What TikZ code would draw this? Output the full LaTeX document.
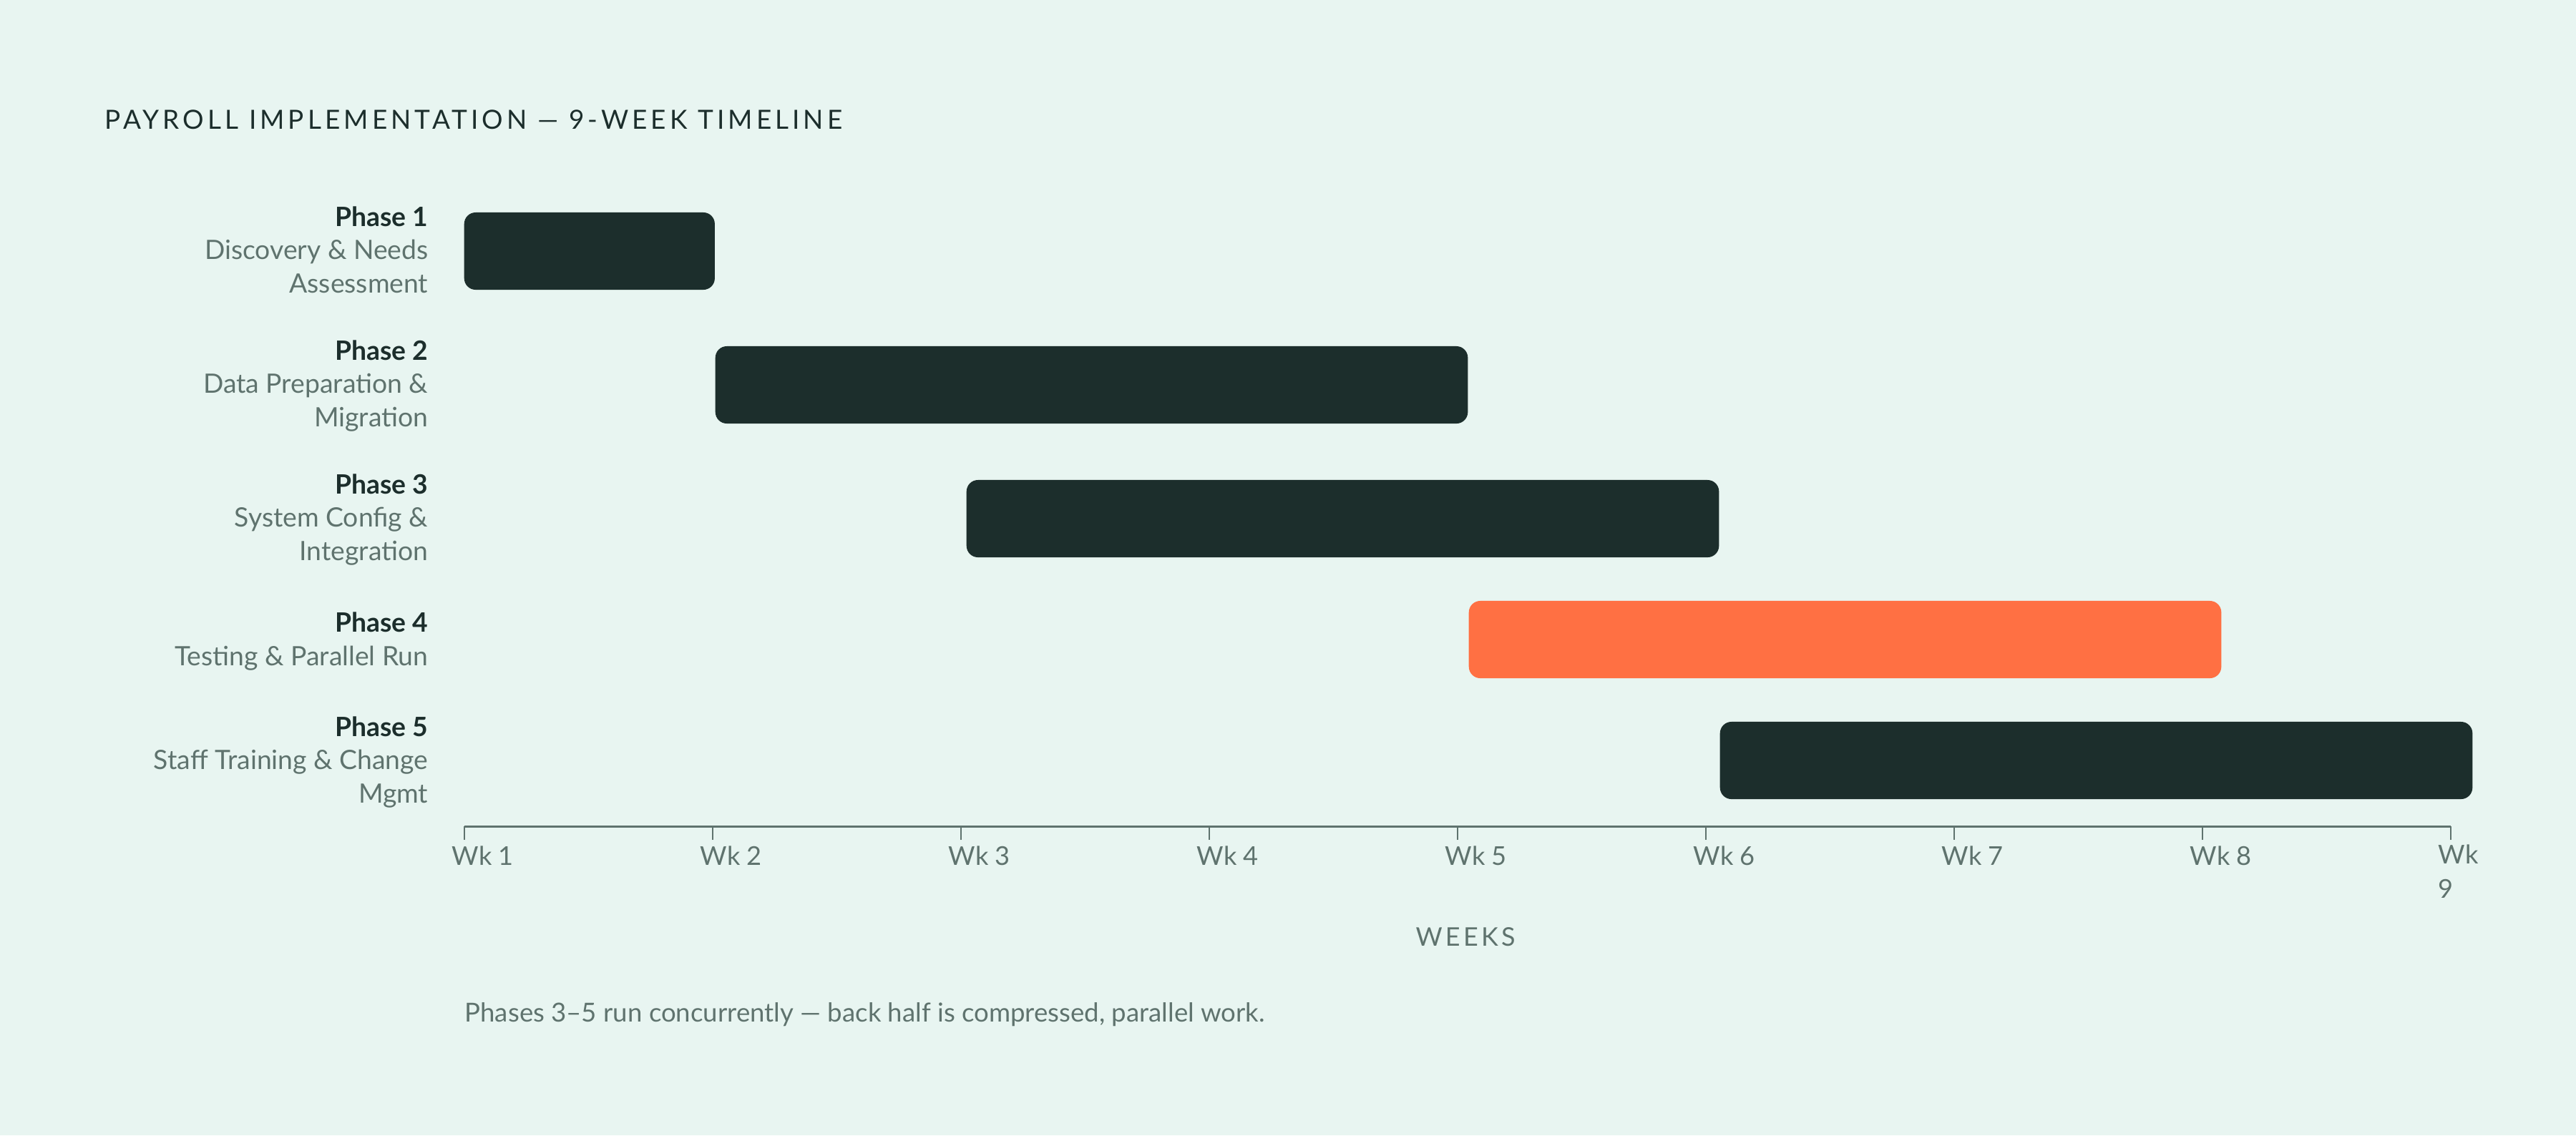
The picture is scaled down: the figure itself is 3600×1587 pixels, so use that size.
\documentclass[tikz,border=0pt]{standalone}
\usepackage{fontspec}
\setmainfont{Lato}
\usepackage{tikz}
\definecolor{ganttbg}{RGB}{232,245,241}
\definecolor{ganttink}{RGB}{28,46,44}
\definecolor{ganttgrey}{RGB}{95,115,110}
\definecolor{ganttorange}{RGB}{255,112,67}
\tikzstyle{bar} = [rectangle, rounded corners=0.16cm, minimum height=1.08cm, inner sep=0pt, anchor=west, fill=ganttink]
\tikzstyle{phaselabel} = [align=right, anchor=base east, inner sep=0pt, text=ganttgrey, font=\fontsize{10.6}{13.1}\selectfont]
\tikzstyle{ticklabel} = [align=left, anchor=base west, inner sep=0pt, text=ganttgrey, font=\fontsize{10.3}{13.6}\selectfont]
\tikzstyle{axisline} = [line width=0.85pt, color=ganttgrey]
\tikzstyle{tick} = [line width=0.45pt, color=ganttgrey]

\begin{document}
\begin{tikzpicture}[x=0.01cm, y=-0.01cm]
\fill[ganttbg] (0,0) rectangle (3600,1587);
\useasboundingbox (0,0) rectangle (3600,1587);

% Title
\node[anchor=base west, inner sep=0pt, text=ganttink, font=\fontsize{10.5}{12}\selectfont\addfontfeature{LetterSpace=13.8}] (title) at (146,180) {PAYROLL IMPLEMENTATION — 9-WEEK TIMELINE};

% Phase labels (anchored on the last line)
\node[phaselabel] (lab1) at (599,409) {\textcolor{ganttink}{\textbf{Phase 1}}\\Discovery \& Needs\\Assessment};
\node[phaselabel] (lab2) at (599,596) {\textcolor{ganttink}{\textbf{Phase 2}}\\Data Preparation \&\\Migration};
\node[phaselabel] (lab3) at (599,783) {\textcolor{ganttink}{\textbf{Phase 3}}\\System Config \&\\Integration};
\node[phaselabel] (lab4) at (599,930) {\textcolor{ganttink}{\textbf{Phase 4}}\\Testing \& Parallel Run};
\node[phaselabel] (lab5) at (599,1122) {\textcolor{ganttink}{\textbf{Phase 5}}\\Staff Training \& Change\\Mgmt};

% Bars
\node[bar, minimum width=3.5cm] (bar1) at (648,351) {};
\node[bar, minimum width=10.51cm] (bar2) at (999,538) {};
\node[bar, minimum width=10.51cm] (bar3) at (1350,725) {};
\node[bar, minimum width=10.51cm, fill=ganttorange] (bar4) at (2052,894) {};
\node[bar, minimum width=10.51cm] (bar5) at (2403,1063) {};

% Axis
\coordinate (t1) at (649,1155);
\coordinate (t2) at (996,1155);
\coordinate (t3) at (1343,1155);
\coordinate (t4) at (1690,1155);
\coordinate (t5) at (2037,1155);
\coordinate (t6) at (2384,1155);
\coordinate (t7) at (2731,1155);
\coordinate (t8) at (3078,1155);
\coordinate (t9) at (3425,1155);
\draw[axisline] (t1) -- (t9);
\draw[tick] (t1) -- ++(0,19);
\draw[tick] (t2) -- ++(0,19);
\draw[tick] (t3) -- ++(0,19);
\draw[tick] (t4) -- ++(0,19);
\draw[tick] (t5) -- ++(0,19);
\draw[tick] (t6) -- ++(0,19);
\draw[tick] (t7) -- ++(0,19);
\draw[tick] (t8) -- ++(0,19);
\draw[tick] (t9) -- ++(0,19);

% Week labels
\node[ticklabel] (wk1) at (631,1209) {Wk 1};
\node[ticklabel] (wk2) at (978,1209) {Wk 2};
\node[ticklabel] (wk3) at (1325,1209) {Wk 3};
\node[ticklabel] (wk4) at (1672,1209) {Wk 4};
\node[ticklabel] (wk5) at (2019,1209) {Wk 5};
\node[ticklabel] (wk6) at (2366,1209) {Wk 6};
\node[ticklabel] (wk7) at (2713,1209) {Wk 7};
\node[ticklabel] (wk8) at (3060,1209) {Wk 8};
\node[ticklabel] (wk9) at (3407,1255) {Wk\\9};

\node[anchor=base, inner sep=0pt, text=ganttgrey, font=\fontsize{10.2}{12}\selectfont\addfontfeature{LetterSpace=12}] (weeks) at (2048,1322) {WEEKS};

% Note
\node[anchor=base west, inner sep=0pt, text=ganttgrey, font=\fontsize{10.4}{12}\selectfont] (note) at (649,1428) {Phases 3–5 run concurrently — back half is compressed, parallel work.};
\end{tikzpicture}
\end{document}
